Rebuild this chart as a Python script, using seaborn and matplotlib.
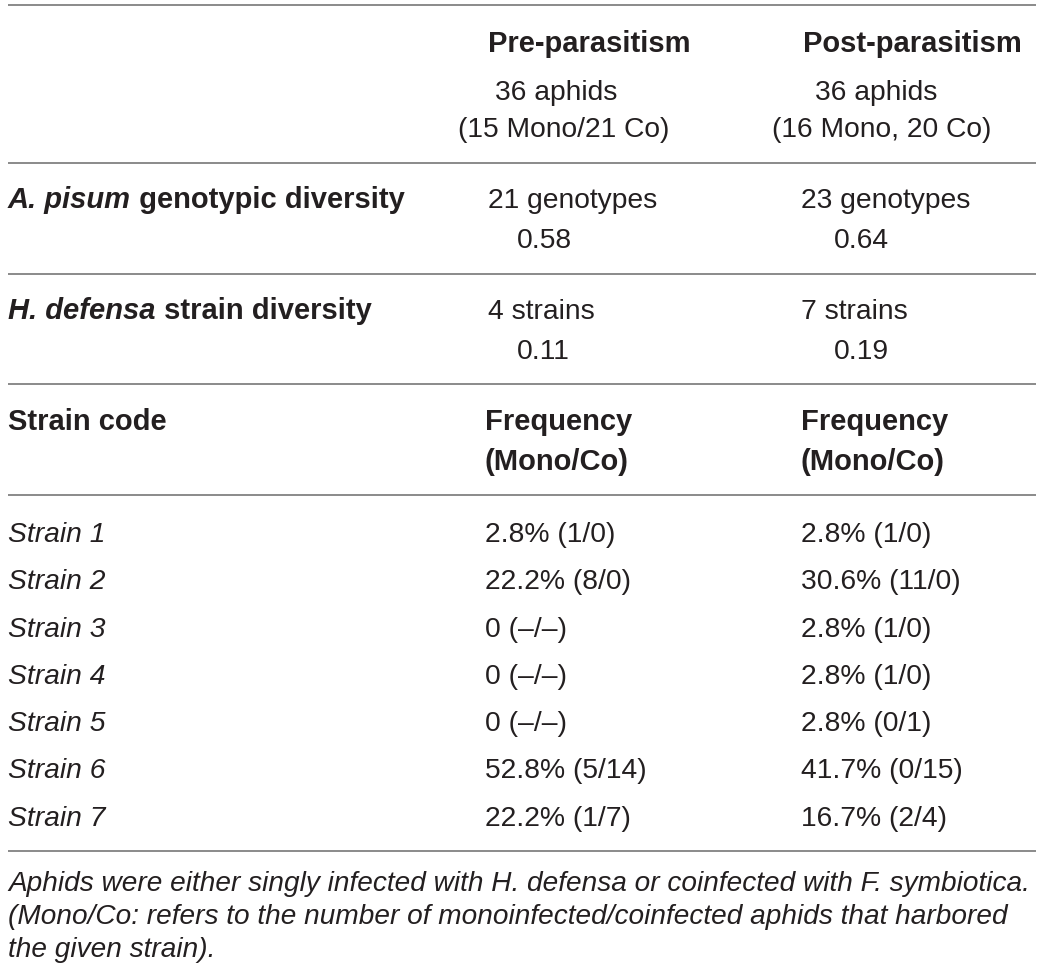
import matplotlib
matplotlib.use("Agg")
import matplotlib.pyplot as plt
import seaborn as sns

# table content
col_heads = ["Pre-parasitism", "Post-parasitism"]
aphid_counts = ["36 aphids", "36 aphids"]
aphid_split = ["(15 Mono/21 Co)", "(16 Mono, 20 Co)"]
genotypes = ["21 genotypes", "23 genotypes"]
genotype_div = ["0.58", "0.64"]
strain_counts = ["4 strains", "7 strains"]
strain_div = ["0.11", "0.19"]

strain_codes = ["Strain 1", "Strain 2", "Strain 3", "Strain 4", "Strain 5", "Strain 6", "Strain 7"]
pre_pct = [2.8, 22.2, 0, 0, 0, 52.8, 22.2]
pre_mono = [1, 8, None, None, None, 5, 1]
pre_co = [0, 0, None, None, None, 14, 7]
post_pct = [2.8, 30.6, 2.8, 2.8, 2.8, 41.7, 16.7]
post_mono = [1, 11, 1, 1, 0, 0, 2]
post_co = [0, 0, 0, 0, 1, 15, 4]

footnote = ["Aphids were either singly infected with H. defensa or coinfected with F. symbiotica.",
            "(Mono/Co: refers to the number of monoinfected/coinfected aphids that harbored",
            "the given strain)."]


def freq_label(pct, mono, co):
    if mono is None:
        return "0 (\u2013/\u2013)"
    return f"{pct:.1f}% ({mono}/{co})"


sns.set_theme(style="white")
plt.rcParams['font.family'] = ['Liberation Sans', 'DejaVu Sans']

W, H = 1043, 974
fig = plt.figure(figsize=(W / 100, H / 100), dpi=100)
ax = fig.add_axes([0, 0, 1, 1])
ax.set_xlim(0, W)
ax.set_ylim(H, 0)
ax.axis("off")

txt = "#231f20"
fs = 20.3     # regular text
fsb = 21.0    # bold text
line_col = "#8a8a8a"

for y in [5, 163, 274, 384, 495, 851]:
    ax.hlines(y, 8, 1036, color=line_col, lw=1.4)


def put(x, y, s, bold=False, italic=False, size=None):
    return ax.text(x, y, s, fontsize=size or (fsb if bold else fs),
                   fontweight="bold" if bold else "normal",
                   fontstyle="italic" if italic else "normal",
                   color=txt, va="baseline")


renderer = fig.canvas.get_renderer()


def place_after(t, y, rest):
    bb = t.get_window_extent(renderer=renderer)
    xd = ax.transData.inverted().transform((bb.x1, 0))[0]
    put(xd, y, rest, bold=True)


# header block
put(488, 52, col_heads[0], bold=True)
put(803, 52, col_heads[1], bold=True)
put(495, 100, aphid_counts[0])
put(815, 100, aphid_counts[1])
put(458, 137, aphid_split[0])
put(772, 137, aphid_split[1])

t1 = put(8, 208, "A. pisum", bold=True, italic=True)
place_after(t1, 208, " genotypic diversity")
put(488, 208, genotypes[0])
put(801, 208, genotypes[1])
put(517, 248, genotype_div[0])
put(834, 248, genotype_div[1])

t2 = put(8, 319, "H. defensa", bold=True, italic=True)
place_after(t2, 319, " strain diversity")
put(488, 319, strain_counts[0])
put(801, 319, strain_counts[1])
put(517, 359, strain_div[0])
put(834, 359, strain_div[1])

put(8, 430, "Strain code", bold=True)
for x in [485, 801]:
    put(x, 430, "Frequency", bold=True)
    put(x, 470, "(Mono/Co)", bold=True)

for i, code in enumerate(strain_codes):
    y = 542 + 47.3 * i
    put(8, y, code, italic=True)
    put(485, y, freq_label(pre_pct[i], pre_mono[i], pre_co[i]))
    put(801, y, freq_label(post_pct[i], post_mono[i], post_co[i]))

for i, line in enumerate(footnote):
    put(8, 891 + 33 * i, line, italic=True, size=20.2)

fig.savefig("out.png", dpi=100)
